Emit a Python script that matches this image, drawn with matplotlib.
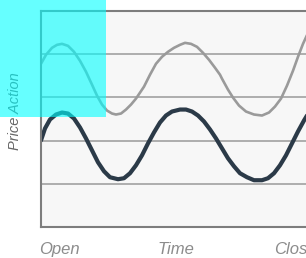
import matplotlib
matplotlib.use("Agg")
import matplotlib.pyplot as plt
from matplotlib.patches import Rectangle
import numpy as np

# Data (time units, price units)
upper_x = [0, 5, 11, 16, 21, 27, 33, 39, 45, 51, 56, 61, 66, 71, 75, 80, 85, 90, 95,
           103, 109, 115, 121, 127, 133, 139, 144, 150, 156, 162, 168, 174, 179,
           181, 187, 192, 198, 205, 213, 221, 228, 234, 240, 246, 252, 257, 262, 267]
upper_y = [164, 173, 180, 183, 184, 182, 176, 167, 156, 143, 132, 123, 117, 114, 113,
           114, 118, 123, 129, 141, 153, 164, 171, 176, 180, 183, 185, 184, 181,
           175, 168, 160, 153, 149, 138, 130, 122, 116, 113, 112, 115, 121, 129, 142,
           157, 171, 184, 195]

lower_x = [0, 4, 9, 15, 21, 27, 33, 39, 45, 51, 57, 63, 69, 77, 83, 89, 95, 101, 107,
           113, 119, 125, 131, 139, 145, 151, 157, 163, 169, 175, 181, 187, 193, 199,
           206, 213, 221, 227, 233, 239, 245, 251, 257, 263, 269]
lower_y = [87, 99, 108, 113, 115, 114, 109, 100, 89, 77, 65, 56, 50, 48, 49, 54, 62, 72,
           84, 95, 105, 112, 116, 118, 118, 116, 112, 106, 98, 89, 79, 69, 61, 54, 50,
           47, 47, 49, 54, 62, 72, 84, 96, 107, 117]

x_ticks = [18, 135, 254]
x_labels = ["Open", "Time", "Close"]
y_grid = [0, 43.4, 86.8, 130.2, 173.6, 217]
y_label = "Price Action"

W, H = 306, 258
fig = plt.figure(figsize=(W / 100, H / 100), dpi=100)
fig.patch.set_facecolor("white")
ax = fig.add_axes([41 / W, 31 / H, 272 / W, 216 / H])
ax.set_facecolor("#f7f7f7")
ax.set_xlim(0, 272)
ax.set_ylim(0, 217)

ax.set_yticks(y_grid)
ax.yaxis.grid(True, color="#a8a8a8", linewidth=1.3)
ax.set_axisbelow(True)
ax.tick_params(axis="y", left=False, labelleft=False)

ax.plot(upper_x, upper_y, color="#9a9a9a", linewidth=1.9, solid_capstyle="round")
ax.plot(lower_x, lower_y, color="#2b3a48", linewidth=3.0, solid_capstyle="round")

ax.set_xticks(x_ticks)
ax.set_xticklabels(x_labels, fontsize=12, style="italic", color="#8c8c8c",
                   family="Liberation Sans")
ax.tick_params(axis="x", bottom=False, pad=7)

for side in ["left", "top", "bottom"]:
    ax.spines[side].set_color("#7d7d7d")
    ax.spines[side].set_linewidth(1.5)
ax.spines["right"].set_visible(False)

fig.text(15 / W, 1 - 111 / H, y_label, rotation=90, ha="center", va="center",
         fontsize=10.5, style="italic", color="#666666", family="Liberation Sans")

fig.patches.append(Rectangle((0, 1 - 117 / H), 106 / W, 117 / H,
                             transform=fig.transFigure, facecolor=(0, 1, 1),
                             alpha=0.6, edgecolor="none", zorder=10))

fig.savefig("out.png", dpi=100)
